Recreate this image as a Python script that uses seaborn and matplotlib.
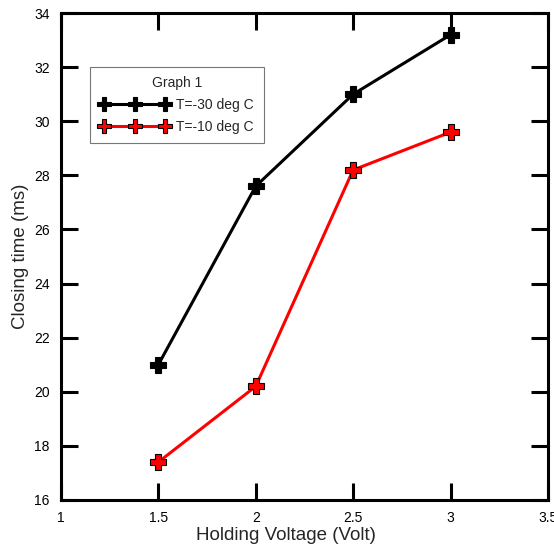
import matplotlib
matplotlib.use('Agg')
import matplotlib.pyplot as plt
import pandas as pd
import numpy as np
import seaborn as sns

voltage = [1.5, 2.0, 2.5, 3.0]
t_minus30 = [21.0, 27.6, 31.0, 33.2]
t_minus10 = [17.4, 20.2, 28.2, 29.6]
series_names = ['T=-30 deg C', 'T=-10 deg C']

df = pd.DataFrame({
    'Holding Voltage (Volt)': voltage * 2,
    'Closing time (ms)': t_minus30 + t_minus10,
    'Series': [series_names[0]] * 4 + [series_names[1]] * 4,
})

sns.set_style('white')
plt.rcParams['font.family'] = ['Liberation Sans', 'DejaVu Sans']

fig = plt.figure(figsize=(5.54, 5.47), dpi=100)
ax = fig.add_axes([0.110, 0.086, 0.879, 0.890])

sns.lineplot(data=df, x='Holding Voltage (Volt)', y='Closing time (ms)', hue='Series',
             palette=['black', 'red'], marker='P', markersize=11, markeredgecolor='black',
             markeredgewidth=0.8, linewidth=2.2, ax=ax, legend=False)

handles = [plt.Line2D([], [], color=c, marker='P', markersize=10, markeredgecolor='black',
                      markeredgewidth=0.8, linewidth=2.2) for c in ['black', 'red']]
leg = ax.legend(handles, series_names, title='Graph 1', numpoints=3, loc='upper left',
                bbox_to_anchor=(0.060, 0.89), fancybox=False, frameon=True,
                edgecolor='#555555', fontsize=10, title_fontsize=10, handlelength=5.0,
                handletextpad=0.5, borderpad=0.7, labelspacing=0.55, borderaxespad=0)
leg.get_frame().set_linewidth(0.8)

ax.set_xlim(1, 3.5)
ax.set_ylim(16, 34)
ax.set_xticks([1, 1.5, 2, 2.5, 3, 3.5])
ax.set_xticklabels(['1', '1.5', '2', '2.5', '3', '3.5'])
ax.set_yticks(np.arange(16, 35, 2))
ax.tick_params(direction='in', length=12, width=2.2, labelsize=10, top=True, right=True,
               bottom=True, left=True, pad=8, colors='black')
for s in ax.spines.values():
    s.set_linewidth(2.2)
    s.set_color('black')
ax.set_xlabel('Holding Voltage (Volt)', fontsize=13.5)
ax.set_ylabel('Closing time (ms)', fontsize=13.5, labelpad=4)
ax.xaxis.set_label_coords(0.462, -0.056)

fig.savefig('out.png', dpi=100)
